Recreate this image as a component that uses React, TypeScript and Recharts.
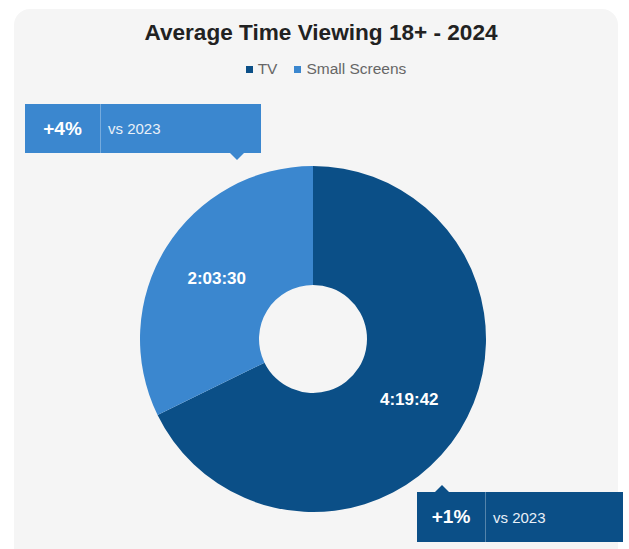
import React from "react";
import { PieChart, Pie, Cell } from "recharts";

const categories = ["TV", "Small Screens"];
const viewingSeconds = [15582, 7410]; // 4:19:42, 2:03:30
const changes = ["+1%", "+4%"];
const compareYear = "2023";
const title = "Average Time Viewing 18+ - 2024";
const colors = ["#0b4f87", "#3b87cf"];

const data = categories.map((name, i) => ({ name, value: viewingSeconds[i] }));

const fmt = (s: number) => {
  const h = Math.floor(s / 3600);
  const m = Math.floor((s % 3600) / 60);
  const sec = s % 60;
  return `${h}:${String(m).padStart(2, "0")}:${String(sec).padStart(2, "0")}`;
};

const RAD = Math.PI / 180;
const renderLabel = (props: any) => {
  const { cx, cy, midAngle, innerRadius, outerRadius, index } = props;
  const r = (innerRadius + outerRadius) / 2;
  const x = cx + r * Math.cos(-midAngle * RAD);
  const y = cy + r * Math.sin(-midAngle * RAD);
  return (
    <text
      x={x}
      y={y}
      fill="#ffffff"
      textAnchor="middle"
      dominantBaseline="central"
      fontFamily="Liberation Sans, Arial, sans-serif"
      fontWeight="bold"
      fontSize={17}
    >
      {fmt(viewingSeconds[index])}
    </text>
  );
};

const LegendContent = () => (
  <div
    style={{
      position: "absolute",
      left: 8,
      top: 60,
      width: 636,
      display: "flex",
      justifyContent: "center",
      alignItems: "center",
      fontFamily: "Liberation Sans, Arial, sans-serif",
      fontSize: 15.5,
      color: "#666",
      gap: 17,
    }}
  >
    {categories.map((c, i) => (
      <span key={c} style={{ display: "flex", alignItems: "center" }}>
        <span
          style={{
            display: "inline-block",
            width: 7,
            height: 7,
            background: colors[i],
            marginRight: 5,
          }}
        />
        {c}
      </span>
    ))}
  </div>
);

const Callout = ({
  left,
  top,
  width,
  height,
  firstWidth,
  color,
  change,
  pointer,
  pointerX,
}: any) => (
  <div
    style={{
      position: "absolute",
      left,
      top,
      width,
      height,
      background: color,
      display: "flex",
      alignItems: "center",
      fontFamily: "Liberation Sans, Arial, sans-serif",
      color: "#fff",
    }}
  >
    <div
      style={{
        width: firstWidth,
        height: "100%",
        display: "flex",
        alignItems: "center",
        justifyContent: "center",
        fontWeight: "bold",
        fontSize: 19,
        borderRight: "1px solid rgba(255,255,255,0.3)",
        boxSizing: "border-box",
      }}
    >
      {change}
    </div>
    <div style={{ paddingLeft: 7, fontSize: 15, color: "#e9f0f8" }}>vs {compareYear}</div>
    <div
      style={{
        position: "absolute",
        left: pointerX - 7,
        top: pointer === "down" ? height : -7,
        width: 0,
        height: 0,
        borderLeft: "7px solid transparent",
        borderRight: "7px solid transparent",
        ...(pointer === "down"
          ? { borderTop: `7px solid ${color}` }
          : { borderBottom: `7px solid ${color}` }),
      }}
    />
  </div>
);

export default function App() {
  return (
    <div
      style={{
        position: "absolute",
        left: 0,
        top: 0,
        width: 629,
        height: 549,
        background: "#ffffff",
        overflow: "hidden",
      }}
    >
      <div
        style={{
          position: "absolute",
          left: 14,
          top: 9,
          width: 604,
          height: 580,
          background: "#f5f5f5",
          borderRadius: 16,
        }}
      />
      <div
        style={{
          position: "absolute",
          left: 0,
          top: 20,
          width: 642,
          textAlign: "center",
          fontFamily: "Liberation Sans, Arial, sans-serif",
          fontWeight: "bold",
          fontSize: 22.6,
          color: "#222",
        }}
      >
        {title}
      </div>
      <LegendContent />
      <div style={{ position: "absolute", left: 0, top: 0 }}>
        <PieChart width={629} height={549} margin={{ top: 0, right: 0, bottom: 0, left: 0 }}>
          <Pie
            data={data}
            dataKey="value"
            nameKey="name"
            cx={313}
            cy={339}
            innerRadius={54}
            outerRadius={173}
            startAngle={90}
            endAngle={-270}
            stroke="none"
            label={renderLabel}
            labelLine={false}
            isAnimationActive={false}
          >
            {data.map((d, i) => (
              <Cell key={d.name} fill={colors[i]} />
            ))}
          </Pie>
        </PieChart>
      </div>
      <Callout
        left={25}
        top={104}
        width={236}
        height={49}
        firstWidth={76}
        color={colors[1]}
        change={changes[1]}
        pointer="down"
        pointerX={212}
      />
      <Callout
        left={417}
        top={492}
        width={206}
        height={50}
        firstWidth={69}
        color={colors[0]}
        change={changes[0]}
        pointer="up"
        pointerX={25}
      />
    </div>
  );
}
